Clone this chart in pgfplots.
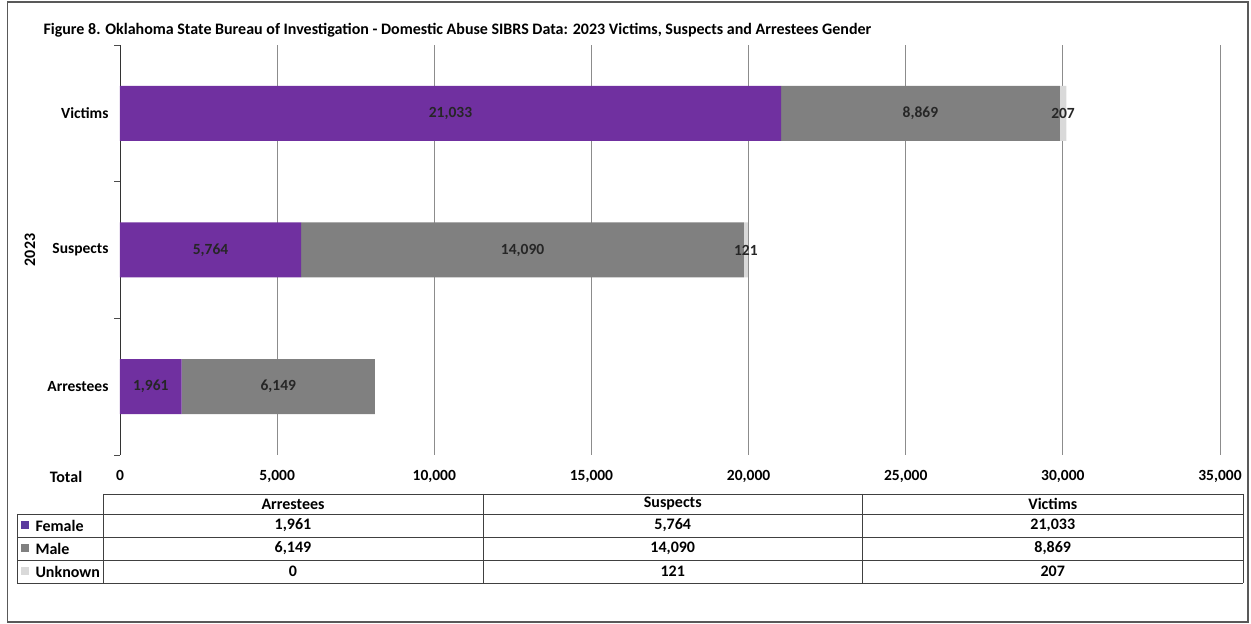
\documentclass[border=0pt]{standalone}
\usepackage{pgfplots}
\pgfplotsset{compat=1.18}
\usepackage{pgfplotstable}
\usepackage{fontspec}
\setmainfont{Carlito}
\definecolor{fem}{HTML}{7030A0}
\definecolor{mal}{HTML}{808080}
\definecolor{unk}{HTML}{D9D9D9}
\definecolor{femleg}{HTML}{5B3A9E}
\pgfplotstableread{
y cat female male unknown
0 Arrestees 1961 6149 0
1 Suspects 5764 14090 121
2 Victims 21033 8869 207
}\datatable
\newcommand{\cell}[2]{\pgfplotstablegetelem{#1}{#2}\of\datatable\pgfmathprintnumber[fixed,1000 sep={,},assume math mode=true]{\pgfplotsretval}}
\pgfplotsset{
  common/.style={
    at={(120pt,169pt)}, anchor=south west,
    scale only axis, width=1100pt, height=410pt,
    xmin=0, xmax=35000, ymin=-0.5, ymax=2.5, clip=false},
  lab/.style={draw=none, mark=none, point meta=explicit symbolic,
    nodes near coords={\ifnum\pgfplotspointmeta>0 \pgfmathprintnumber[fixed,1000 sep={,},assume math mode=true]{\pgfplotspointmeta}\fi},
    every node near coord/.style={anchor=center, inner sep=0pt, font=\fontsize{15.5}{18}\selectfont\bfseries, text=black!85}},
}
\begin{document}
\fontsize{16}{19}\selectfont\bfseries
\begin{tikzpicture}[x=1pt,y=1pt]
\useasboundingbox (0,0) rectangle (1251,624);
\draw[line width=1.5pt,black!65] (7.5,2) rectangle (1248,622);
\node[anchor=west,font=\fontsize{16}{19}\selectfont\bfseries] at (38,594) {Figure 8. Oklahoma State Bureau of Investigation - Domestic Abuse SIBRS Data: 2023 Victims, Suspects and Arrestees Gender};
\begin{axis}[
  common,
  xbar stacked, bar width=55pt,
  xtick={0,5000,...,35000},
  scaled x ticks=false,
  xticklabel style={font=\fontsize{15.5}{18}\selectfont\bfseries, yshift=-10pt,
    /pgf/number format/fixed, /pgf/number format/1000 sep={,}, /pgf/number format/assume math mode=true},
  xmajorgrids, grid style={black!45, line width=0.8pt},
  axis lines*=left,
  x axis line style={draw=none},
  y axis line style={-, black!80, line width=0.8pt},
  xtick style={draw=none},
  ytick={0,1,2},
  yticklabels={Arrestees,Suspects,Victims},
  yticklabel style={font=\fontsize{15.5}{18}\selectfont\bfseries, anchor=east, xshift=-6pt},
  major tick length=0pt,
  extra y ticks={-0.5,0.5,1.5,2.5},
  extra y tick labels={},
  extra y tick style={major tick length=6pt, tick align=outside, tick style={black!70, line width=0.8pt}},
]
\addplot[fill=fem, draw=none] table[x=female,y=y]{\datatable};
\addplot[fill=mal, draw=none] table[x=male,y=y]{\datatable};
\addplot[fill=unk, draw=none] table[x=unknown,y=y]{\datatable};
\end{axis}
\begin{axis}[common, hide axis]
\addplot[lab] table[x expr={\thisrow{female}/2}, y=y, meta=female]{\datatable};
\addplot[lab] table[x expr={\thisrow{female}+\thisrow{male}/2}, y=y, meta=male]{\datatable};
\addplot[lab] table[x expr={\thisrow{female}+\thisrow{male}+\thisrow{unknown}/2}, y=y, meta=unknown]{\datatable};
\end{axis}
% side labels
\node[rotate=90] at (30,374) {2023};
\node at (66,147) {Total};
% data table
\begin{scope}[black!75, line width=0.8pt]
\draw (103,130) -- (1243,130);
\draw (17,110) -- (1243,110);
\draw (17,87) -- (1243,87);
\draw (17,64) -- (1243,64);
\draw (17,41) -- (1243,41);
\draw (17,110) -- (17,41);
\draw (103,130) -- (103,41);
\draw (483,130) -- (483,41);
\draw (862.5,130) -- (862.5,41);
\draw (1243,130) -- (1243,41);
\end{scope}
\node at (293,120) {Arrestees};
\node at (672.75,120) {Suspects};
\node at (1052.75,120) {Victims};
\fill[femleg] (21,94.5) rectangle (29,102.5);
\fill[mal] (21,71.5) rectangle (29,79.5);
\fill[unk] (21,48.5) rectangle (29,56.5);
\node[anchor=west] at (30,98.5) {Female};
\node[anchor=west] at (30,75.5) {Male};
\node[anchor=west] at (30,52.5) {Unknown};
\node at (293,98.5) {\cell{0}{female}};
\node at (672.75,98.5) {\cell{1}{female}};
\node at (1052.75,98.5) {\cell{2}{female}};
\node at (293,75.5) {\cell{0}{male}};
\node at (672.75,75.5) {\cell{1}{male}};
\node at (1052.75,75.5) {\cell{2}{male}};
\node at (293,52.5) {\cell{0}{unknown}};
\node at (672.75,52.5) {\cell{1}{unknown}};
\node at (1052.75,52.5) {\cell{2}{unknown}};
\end{tikzpicture}
\end{document}
